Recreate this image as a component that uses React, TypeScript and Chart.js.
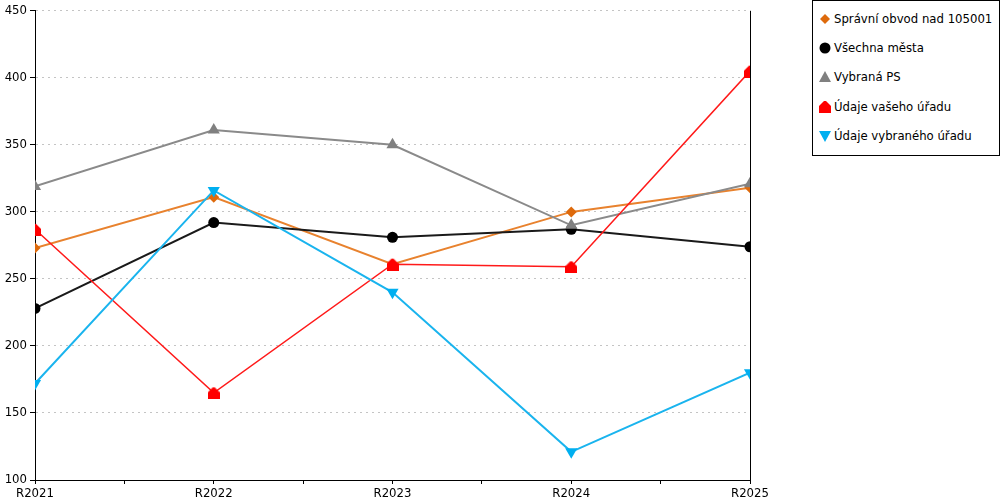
import { useEffect, useRef } from "react";
import { Chart, registerables } from "chart.js";

Chart.register(...registerables);

// Data
const categories = ["R2021", "R2022", "R2023", "R2024", "R2025"];
const spravniObvod = [273, 311, 261, 300, 318];
const vsechnaMesta = [228, 292, 281, 287, 274];
const vybranaPS = [319, 361, 350, 290, 321];
const udajeVasehoUradu = [287, 165, 261, 259, 405];
const udajeVybranehoUradu = [172, 316, 240, 121, 180];
const yTicks = [100, 150, 200, 250, 300, 350, 400, 450];

const FONT = "'DejaVu Sans Condensed', 'DejaVu Sans', sans-serif";

// little "house" marker (triangle roof on a square)
function makeHouse(color: string) {
  const c = document.createElement("canvas");
  c.width = 12;
  c.height = 13;
  const ctx = c.getContext("2d")!;
  ctx.fillStyle = color;
  ctx.beginPath();
  ctx.moveTo(0, 6);
  ctx.lineTo(5, 1);
  ctx.lineTo(7, 1);
  ctx.lineTo(12, 6);
  ctx.lineTo(12, 13);
  ctx.lineTo(0, 13);
  ctx.closePath();
  ctx.fill();
  return c;
}

type Series = {
  label: string;
  values: number[];
  line: string;
  marker: string;
  style: "rectRot" | "circle" | "triangle" | "house" | "down";
  radius: number;
  width: number;
};

const series: Series[] = [
  { label: "Správní obvod nad 105001", values: spravniObvod, line: "#e8822e", marker: "#de6a0c", style: "rectRot", radius: 5.5, width: 2 },
  { label: "Všechna města", values: vsechnaMesta, line: "#1a1a1a", marker: "#000000", style: "circle", radius: 5.5, width: 2 },
  { label: "Vybraná PS", values: vybranaPS, line: "#8a8a8a", marker: "#808080", style: "triangle", radius: 7, width: 2 },
  { label: "Údaje vašeho úřadu", values: udajeVasehoUradu, line: "#ff1a1a", marker: "#ff0000", style: "house", radius: 6, width: 1.5 },
  { label: "Údaje vybraného úřadu", values: udajeVybranehoUradu, line: "#1ab4ee", marker: "#00aff0", style: "down", radius: 7, width: 2 },
];

const rightBorder = {
  id: "rightBorder",
  afterDatasetsDraw(chart: any) {
    const { ctx, chartArea } = chart;
    ctx.save();
    ctx.strokeStyle = "#000";
    ctx.lineWidth = 1;
    ctx.beginPath();
    ctx.moveTo(Math.round(chartArea.right) + 0.5, chartArea.top);
    ctx.lineTo(Math.round(chartArea.right) + 0.5, chartArea.bottom);
    ctx.stroke();
    ctx.restore();
  },
};

function LegendMarker({ s }: { s: Series }) {
  const c = s.marker;
  let shape;
  if (s.style === "rectRot") shape = <polygon points="6,1 11,6 6,11 1,6" fill={c} />;
  else if (s.style === "circle") shape = <circle cx="6" cy="6" r="5.5" fill={c} />;
  else if (s.style === "triangle") shape = <polygon points="6,0 12,11 0,11" fill={c} />;
  else if (s.style === "house") shape = <polygon points="0,5 5,0 7,0 12,5 12,12 0,12" fill={c} />;
  else shape = <polygon points="0,1 12,1 6,12" fill={c} />;
  return (
    <svg width="12" height="12" style={{ position: "absolute", left: 6, top: 2 }}>
      {shape}
    </svg>
  );
}

export default function App() {
  const chartRef = useRef<HTMLCanvasElement>(null);
  const chartInstance = useRef<Chart | null>(null);

  useEffect(() => {
    document.body.style.margin = "0";
    if (!chartRef.current) return;
    if (chartInstance.current) chartInstance.current.destroy();

    const datasets = series.map((s, i) => ({
      label: s.label,
      data: s.values.map((v, idx) => ({ x: idx, y: v })),
      borderColor: s.line,
      backgroundColor: s.marker,
      borderWidth: s.width,
      pointStyle: s.style === "house" ? makeHouse(s.marker) : s.style === "down" ? "triangle" : s.style,
      pointRotation: s.style === "down" ? 180 : 0,
      pointRadius: s.radius,
      pointBorderWidth: 0,
      pointBackgroundColor: s.marker,
      pointBorderColor: s.marker,
      tension: 0,
      fill: false,
      order: series.length - i,
    }));

    chartInstance.current = new Chart(chartRef.current, {
      type: "line",
      data: { datasets },
      options: {
        animation: false,
        responsive: true,
        maintainAspectRatio: false,
        layout: { padding: { top: 10, right: 250, left: 0, bottom: 0 } },
        plugins: { legend: { display: false }, tooltip: { enabled: false } },
        scales: {
          x: {
            type: "linear",
            min: 0,
            max: categories.length - 1,
            afterBuildTicks: (scale: any) => {
              const t = [];
              for (let v = 0; v <= categories.length - 1; v += 0.5) t.push({ value: v });
              scale.ticks = t;
            },
            afterFit: (scale: any) => {
              scale.height = 20;
            },
            grid: {
              drawOnChartArea: false,
              tickLength: 4,
              tickColor: "#000",
              color: "#000",
            },
            border: { color: "#000", width: 1 },
            ticks: {
              autoSkip: false,
              maxRotation: 0,
              padding: 2,
              color: "#000",
              font: { family: FONT, size: 13 },
              callback: (v: any) => (Number.isInteger(v) ? categories[v] : ""),
            },
          },
          y: {
            min: yTicks[0],
            max: yTicks[yTicks.length - 1],
            afterBuildTicks: (scale: any) => {
              scale.ticks = yTicks.map((v) => ({ value: v }));
            },
            afterFit: (scale: any) => {
              scale.width = 35;
            },
            grid: {
              color: "#c4c4c4",
              lineWidth: 1,
              tickLength: 5,
              tickColor: "#000",
            },
            border: { color: "#000", width: 1, dash: [2, 4] },
            ticks: {
              padding: 3,
              color: "#000",
              font: { family: FONT, size: 13 },
            },
          },
        },
      },
      plugins: [rightBorder],
    });

    return () => {
      if (chartInstance.current) {
        chartInstance.current.destroy();
        chartInstance.current = null;
      }
    };
  }, []);

  return (
    <div style={{ position: "relative", width: 1000, height: 500, background: "#fff" }}>
      <canvas ref={chartRef}></canvas>
      <div
        style={{
          position: "absolute",
          left: 812,
          top: 0,
          width: 186,
          height: 154,
          border: "1px solid #000",
          background: "#fff",
          fontFamily: FONT,
          fontSize: 13,
          color: "#000",
        }}
      >
        {series.map((s, i) => (
          <div key={s.label} style={{ position: "absolute", left: 0, top: 10 + i * 29.2, height: 16, width: 186 }}>
            <LegendMarker s={s} />
            <span style={{ position: "absolute", left: 21, top: 0, lineHeight: "16px", whiteSpace: "nowrap" }}>{s.label}</span>
          </div>
        ))}
      </div>
    </div>
  );
}
